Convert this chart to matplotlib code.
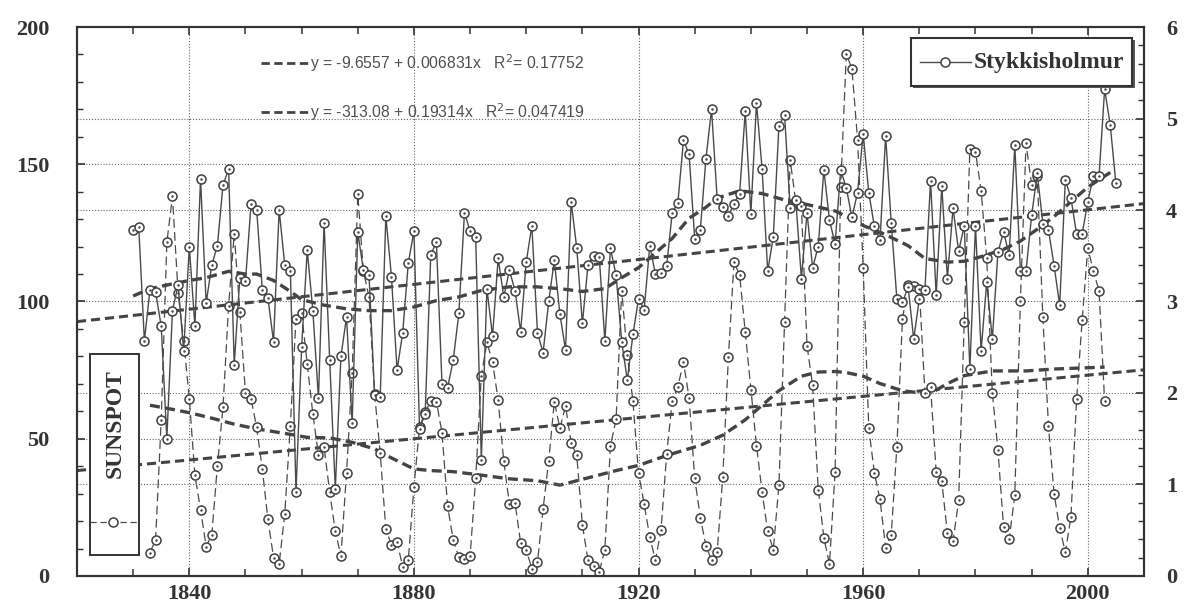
import matplotlib
matplotlib.use("Agg")
import matplotlib.pyplot as plt
from matplotlib.ticker import MultipleLocator, FixedLocator
from matplotlib import font_manager
from matplotlib.patches import Rectangle
from matplotlib.lines import Line2D

# ---------------- data ----------------
sun_years = list(range(1833, 2004))
sunspots = [
    8.5, 13.2, 56.9, 121.5, 138.3, 103.2, 85.7,                      # 1833-1839
    64.6, 36.7, 24.2, 10.7, 15.0, 40.1, 61.5, 98.5, 124.7, 96.3,      # 1840s
    66.6, 64.5, 54.1, 39.0, 20.6, 6.7, 4.3, 22.7, 54.8, 93.8,         # 1850s
    95.8, 77.2, 59.1, 44.0, 47.0, 30.5, 16.3, 7.3, 37.6, 74.0,        # 1860s
    139.0, 111.2, 101.6, 66.2, 44.7, 17.0, 11.3, 12.4, 3.4, 6.0,      # 1870s
    32.3, 54.3, 59.7, 63.7, 63.5, 52.2, 25.4, 13.1, 6.8, 6.3,         # 1880s
    7.1, 35.6, 73.0, 85.1, 78.0, 64.0, 41.8, 26.2, 26.7, 12.1,        # 1890s
    9.5, 2.7, 5.0, 24.4, 42.0, 63.5, 53.8, 62.0, 48.5, 43.9,          # 1900s
    18.6, 5.7, 3.6, 1.4, 9.6, 47.4, 57.1, 103.9, 80.6, 63.6,          # 1910s
    37.6, 26.1, 14.2, 5.8, 16.7, 44.3, 63.9, 69.0, 77.8, 64.9,        # 1920s
    35.7, 21.2, 11.1, 5.7, 8.7, 36.1, 79.7, 114.4, 109.6, 88.8,       # 1930s
    67.8, 47.5, 30.6, 16.3, 9.6, 33.2, 92.6, 151.6, 136.3, 134.7,     # 1940s
    83.9, 69.4, 31.5, 13.9, 4.4, 38.0, 141.7, 190.2, 184.8, 159.0,    # 1950s
    112.3, 53.9, 37.5, 27.9, 10.2, 15.1, 47.0, 93.8, 105.9, 105.5,    # 1960s
    104.5, 66.6, 68.9, 38.0, 34.5, 15.5, 12.6, 27.5, 92.5, 155.4,     # 1970s
    154.6, 140.4, 115.9, 66.6, 45.9, 17.9, 13.4, 29.4, 100.2, 157.6,  # 1980s
    142.6, 145.7, 94.3, 54.6, 29.9, 17.5, 8.6, 21.5, 64.3, 93.3,      # 1990s
    119.6, 111.0, 104.0, 63.7,                                        # 2000-2003
]

temp_years = list(range(1830, 2006))
temps = [
    3.78, 3.81, 2.57, 3.13, 3.10, 2.73, 1.50, 2.90, 3.18, 2.46,       # 1830s
    3.60, 2.73, 4.34, 2.98, 3.40, 3.61, 4.27, 4.45, 2.31, 3.26,       # 1840s
    3.22, 4.07, 4.00, 3.13, 3.04, 2.56, 4.00, 3.40, 3.33, 0.92,       # 1850s
    2.50, 3.56, 2.90, 1.94, 3.86, 2.36, 0.95, 2.40, 2.83, 1.67,       # 1860s
    3.76, 3.34, 3.29, 1.98, 1.96, 3.93, 3.27, 2.25, 2.66, 3.42,       # 1870s
    3.77, 1.61, 1.77, 3.51, 3.65, 2.10, 2.06, 2.36, 2.87, 3.97,       # 1880s
    3.77, 3.70, 1.27, 3.14, 2.62, 3.47, 3.05, 3.34, 3.12, 2.67,       # 1890s
    3.43, 3.83, 2.66, 2.44, 3.00, 3.45, 2.86, 2.47, 4.09, 3.58,       # 1900s
    2.76, 3.40, 3.50, 3.49, 2.57, 3.58, 3.29, 2.56, 2.14, 2.64,       # 1910s
    3.03, 2.91, 3.61, 3.30, 3.31, 3.39, 3.97, 4.08, 4.76, 4.61,       # 1920s
    3.68, 3.78, 4.56, 5.10, 4.12, 4.03, 3.93, 4.07, 4.18, 5.08,       # 1930s
    3.96, 5.17, 4.45, 3.33, 3.71, 4.92, 5.04, 4.02, 4.11, 3.25,       # 1940s
    3.97, 3.37, 3.60, 4.44, 3.89, 3.63, 4.44, 4.24, 3.92, 4.19,       # 1950s
    4.83, 4.19, 3.82, 3.67, 4.81, 3.86, 3.03, 2.99, 3.16, 2.59,       # 1960s
    3.03, 3.13, 4.32, 3.07, 4.26, 3.25, 4.02, 3.55, 3.83, 2.26,       # 1970s
    3.83, 2.46, 3.21, 2.59, 3.54, 3.76, 3.51, 4.71, 3.33, 3.33,       # 1980s
    3.94, 4.40, 3.85, 3.78, 3.39, 2.96, 4.33, 4.13, 3.74, 3.74,       # 1990s
    4.09, 4.37, 4.37, 5.32, 4.93, 4.29,                               # 2000-2005
]

# smoothed curves
temp_smooth_years = [1830, 1833, 1836, 1840, 1843, 1847, 1850, 1852, 1855, 1858,
                     1860, 1864, 1868, 1872, 1876, 1880, 1884, 1888, 1892, 1897,
                     1902, 1906, 1910, 1914, 1917, 1920, 1923, 1926, 1929, 1932,
                     1934, 1938, 1942, 1946, 1950, 1955, 1957, 1960, 1964, 1968,
                     1971, 1975, 1978, 1981, 1985, 1988, 1991, 1994, 1997, 2000,
                     2002, 2004]
temp_smooth = [3.06, 3.14, 3.18, 3.23, 3.26, 3.33, 3.30, 3.30, 3.23, 3.11,
               3.02, 2.96, 2.92, 2.90, 2.90, 2.94, 3.01, 3.05, 3.12, 3.16,
               3.16, 3.14, 3.11, 3.14, 3.26, 3.37, 3.53, 3.69, 3.91, 4.03,
               4.13, 4.21, 4.18, 4.11, 4.06, 3.99, 3.93, 3.83, 3.73, 3.61,
               3.47, 3.43, 3.44, 3.49, 3.57, 3.66, 3.79, 3.93, 4.09, 4.25,
               4.33, 4.41]

sun_smooth_years = [1833, 1836, 1840, 1844, 1848, 1852, 1858, 1861, 1865, 1869,
                    1873, 1876, 1880, 1883, 1887, 1891, 1897, 1902, 1906, 1909,
                    1913, 1916, 1920, 1925, 1931, 1935, 1939, 1942, 1945, 1949,
                    1952, 1955, 1957, 1960, 1963, 1967, 1971, 1973, 1975, 1978,
                    1983, 1989, 1994, 2003]
sun_smooth = [62.2, 61.1, 59.5, 57.5, 55.3, 53.6, 51.6, 50.5, 50.3, 48.7,
              46.3, 43.0, 39.0, 38.4, 38.0, 37.0, 35.4, 34.7, 33.1, 34.7,
              36.8, 38.4, 40.3, 43.9, 47.6, 51.3, 56.9, 62.2, 67.5, 72.8,
              74.3, 74.5, 74.1, 72.8, 70.1, 67.5, 66.5, 67.7, 70.1, 73.0,
              74.7, 74.7, 75.4, 76.1]

# linear trends (end points)
trend_years = [1820, 2010]
temp_trend = [2.78, 4.07]
sun_trend = [38.4, 75.1]

eq_temp = "y = -9.6557 + 0.006831x   R$^2$= 0.17752"
eq_sun = "y = -313.08 + 0.19314x   R$^2$= 0.047419"
x_ticks = [1840, 1880, 1920, 1960, 2000]
left_ticks = [0, 50, 100, 150, 200]
right_ticks = [0, 1, 2, 3, 4, 5, 6]

# ---------------- style ----------------
names = {f.name for f in font_manager.fontManager.ttflist}
eq_font = "Liberation Sans Narrow" if "Liberation Sans Narrow" in names else "Liberation Sans"
eq_size = 13 if eq_font == "Liberation Sans Narrow" else 11.3
SERIF = "Liberation Serif"
TXT = "#333333"
LINE = "#4a4a4a"
TREND = "#444444"
GRID = "#666666"

fig = plt.figure(figsize=(11.9, 6.07), dpi=100)
ax = fig.add_axes([0.0647, 0.0511, 0.8966, 0.9044])
ax2 = ax.twinx()
ax.set_zorder(1)
ax2.set_zorder(2)
ax.patch.set_visible(True)
ax2.patch.set_visible(False)

ax.set_xlim(1820, 2010)
ax.set_ylim(0, 200)
ax2.set_ylim(0, 6)

# gridlines
gkw = dict(color=GRID, lw=0.8, linestyle=(0, (1, 1.6)), zorder=0)
for v in [50, 100, 150]:
    ax.axhline(v, **gkw)
for v in [1, 2, 4, 5]:
    ax2.axhline(v, **gkw)
for v in x_ticks:
    ax.axvline(v, **gkw)

mk = dict(marker="o", ms=6.5, mfc="white", mec="#404040", mew=1.1)

# sunspots (left axis)
ax.plot(sun_years, sunspots, color=LINE, lw=0.9, dashes=(7, 3.5), zorder=3, **mk)
ax.plot(sun_years, sunspots, ls="none", marker=".", ms=1.5, color="#404040", zorder=4)
ax.plot(trend_years, sun_trend, color=TREND, lw=2.2, dashes=(3.0, 1.6), zorder=2)
ax.plot(sun_smooth_years, sun_smooth, color=TREND, lw=2.4, dashes=(3.0, 1.6), zorder=2)

# temperature (right axis)
ax2.plot(temp_years, temps, color=LINE, lw=1.0, zorder=3, **mk)
ax2.plot(temp_years, temps, ls="none", marker=".", ms=1.5, color="#404040", zorder=4)
ax2.plot(trend_years, temp_trend, color=TREND, lw=2.2, dashes=(3.0, 1.6), zorder=2)
ax2.plot(temp_smooth_years, temp_smooth, color=TREND, lw=2.4, dashes=(3.0, 1.6), zorder=2)

# ticks
ax.xaxis.set_major_locator(FixedLocator(x_ticks))
ax.xaxis.set_minor_locator(MultipleLocator(10))
ax.yaxis.set_major_locator(FixedLocator(left_ticks))
ax.yaxis.set_minor_locator(MultipleLocator(10))
ax2.yaxis.set_major_locator(FixedLocator(right_ticks))
ax2.yaxis.set_minor_locator(MultipleLocator(0.2))

ax.tick_params(axis="x", which="major", direction="in", length=6, width=1.2,
               top=True, bottom=True, color=TXT, pad=6)
ax.tick_params(axis="x", which="minor", direction="in", length=5, width=1.1,
               top=True, bottom=True, color=TXT)
ax.tick_params(axis="y", which="major", direction="in", length=6, width=1.2,
               left=True, right=False, color=TXT, pad=20)
ax.tick_params(axis="y", which="minor", direction="in", length=4, width=1.0,
               left=True, right=False, color=TXT)
ax2.tick_params(axis="y", which="major", direction="in", length=6, width=1.2,
                right=True, left=False, color=TXT, pad=16)
ax2.tick_params(axis="y", which="minor", direction="in", length=4, width=1.0,
                right=True, left=False, color=TXT)

for lab in ax.get_xticklabels() + ax.get_yticklabels() + ax2.get_yticklabels():
    lab.set_fontfamily(SERIF)
    lab.set_fontweight("bold")
    lab.set_fontsize(16)
    lab.set_color(TXT)

for a in (ax, ax2):
    for s in a.spines.values():
        s.set_color(TXT)
        s.set_linewidth(1.5)

# equations with line samples
for yfrac, txt in [(0.935, eq_temp), (0.845, eq_sun)]:
    ax2.add_line(Line2D([0.1726, 0.2163], [yfrac, yfrac], transform=ax2.transAxes,
                        color=TREND, lw=2.0, dashes=(3.0, 1.6), zorder=5))
    ax2.text(0.2185, yfrac, txt, transform=ax2.transAxes, ha="left", va="center",
             fontsize=eq_size, family=[eq_font, "DejaVu Sans"], color="#505050", zorder=5)

# Stykkisholmur legend (upper right)
ax2.add_patch(Rectangle((0.784, 0.889), 0.208, 0.0875, transform=ax2.transAxes,
                        facecolor="#555555", edgecolor="none", zorder=6))
ax2.add_patch(Rectangle((0.782, 0.8925), 0.207, 0.0875, transform=ax2.transAxes,
                        facecolor="white", edgecolor=TXT, lw=1.5, zorder=7))
ax2.add_line(Line2D([0.79, 0.838], [0.936, 0.936], transform=ax2.transAxes,
                    color=LINE, lw=1.0, zorder=8))
ax2.add_line(Line2D([0.814], [0.936], transform=ax2.transAxes, ls="none",
                    marker="o", ms=6.5, mfc="white", mec="#404040", mew=1.1, zorder=9))
ax2.text(0.840, 0.936, "Stykkisholmur", transform=ax2.transAxes, ha="left", va="center",
         fontsize=17, family=SERIF, fontweight="bold", color=TXT, zorder=9)

# SUNSPOT legend (left)
ax2.add_patch(Rectangle((0.0122, 0.038), 0.0458, 0.366, transform=ax2.transAxes,
                        facecolor="white", edgecolor=TXT, lw=1.4, zorder=7))
ax2.text(0.0356, 0.277, "SUNSPOT", transform=ax2.transAxes, ha="center", va="center",
         rotation=90, fontsize=17, family=SERIF, fontweight="bold", color=TXT, zorder=9)
ax2.add_line(Line2D([0.0122, 0.058], [0.098, 0.098], transform=ax2.transAxes,
                    color=LINE, lw=0.9, dashes=(5, 3), zorder=8))
ax2.add_line(Line2D([0.034], [0.098], transform=ax2.transAxes, ls="none",
                    marker="o", ms=6.5, mfc="white", mec="#404040", mew=1.1, zorder=9))

fig.savefig("out.png", dpi=100, facecolor="white")
